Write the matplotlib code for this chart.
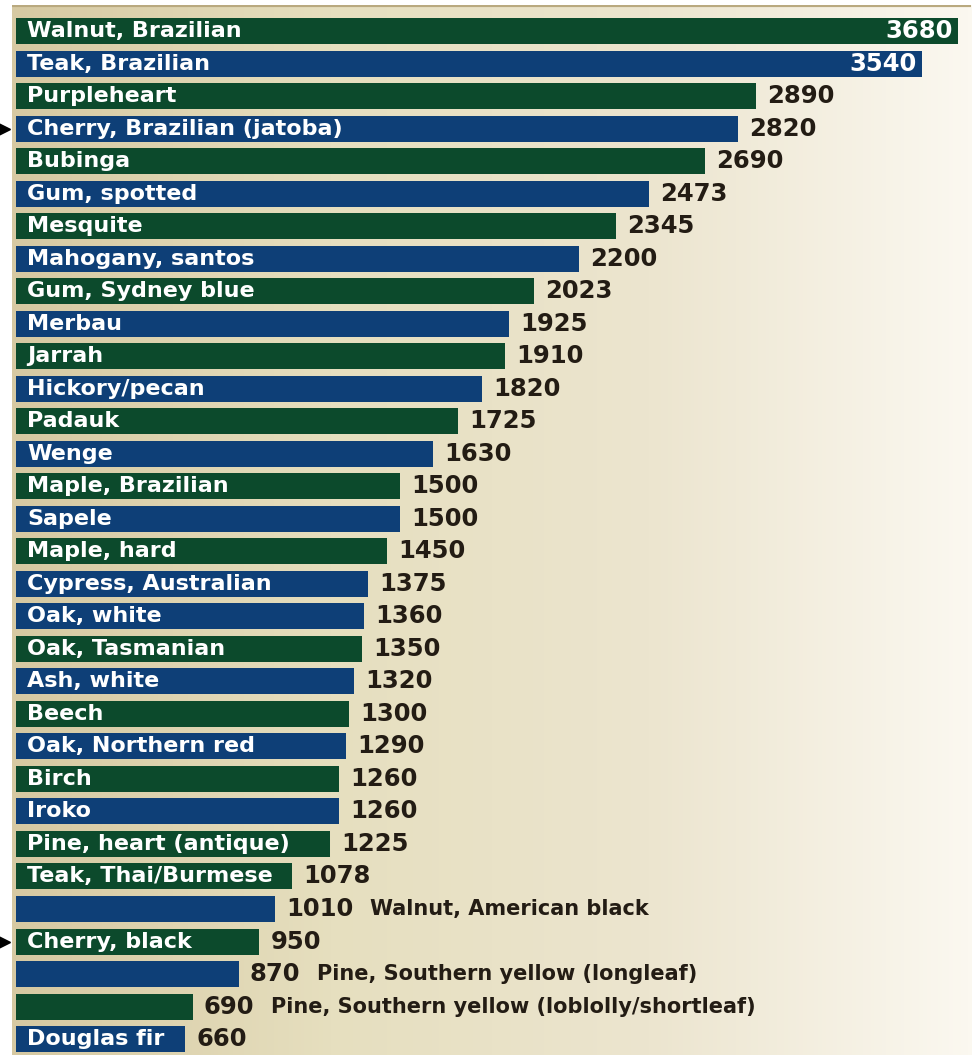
import matplotlib.pyplot as plt
import numpy as np
from matplotlib.colors import LinearSegmentedColormap

# Janka hardness ratings (lbf)
woods = ['Walnut, Brazilian', 'Teak, Brazilian', 'Purpleheart', 'Cherry, Brazilian (jatoba)',
         'Bubinga', 'Gum, spotted', 'Mesquite', 'Mahogany, santos', 'Gum, Sydney blue',
         'Merbau', 'Jarrah', 'Hickory/pecan', 'Padauk', 'Wenge', 'Maple, Brazilian',
         'Sapele', 'Maple, hard', 'Cypress, Australian', 'Oak, white', 'Oak, Tasmanian',
         'Ash, white', 'Beech', 'Oak, Northern red', 'Birch', 'Iroko', 'Pine, heart (antique)',
         'Teak, Thai/Burmese', 'Walnut, American black', 'Cherry, black',
         'Pine, Southern yellow (longleaf)', 'Pine, Southern yellow (loblolly/shortleaf)',
         'Douglas fir']
hardness = [3680, 3540, 2890, 2820, 2690, 2473, 2345, 2200, 2023, 1925, 1910, 1820,
            1725, 1630, 1500, 1500, 1450, 1375, 1360, 1350, 1320, 1300, 1290, 1260,
            1260, 1225, 1078, 1010, 950, 870, 690, 660]
# g = green bar, b = blue bar
shade = list('gbgbgbgbgbgbgbgbgbbgbgbgbggbgbgb')
# names written beside the bar instead of inside it
outside = ['Walnut, American black', 'Pine, Southern yellow (longleaf)',
           'Pine, Southern yellow (loblolly/shortleaf)']
# values written inside the bar
inside_val = ['Walnut, Brazilian', 'Teak, Brazilian']
# rows marked with an arrow
marked = ['Cherry, Brazilian (jatoba)', 'Cherry, black']

GREEN = '#0c4a2c'
BLUE = '#0e3f77'
DARK = '#231c14'

fig = plt.figure(figsize=(9.75, 10.55), dpi=100)
fig.patch.set_facecolor('white')
ax = fig.add_axes([12 / 975, 0, 959 / 975, 1050 / 1055])

xmin, xmax = -16, 3730
ymin, ymax = len(woods) - 0.51, -0.8

# background gradient
bg = LinearSegmentedColormap.from_list('bg', ['#d6c9a2', '#e6dfbf', '#ece5cf', '#fbf8f0'])
grad = np.linspace(0, 1, 256).reshape(1, -1)
ax.imshow(grad, cmap=bg, aspect='auto', extent=[xmin, xmax, ymin, ymax], zorder=0)

y = np.arange(len(woods))
colors = [GREEN if s == 'g' else BLUE for s in shade]
ax.barh(y, hardness, height=0.8, color=colors, zorder=2)

font = dict(family='DejaVu Sans', fontweight='bold')
for i, (name, val) in enumerate(zip(woods, hardness)):
    if name in inside_val:
        ax.annotate(str(val), (val, i), xytext=(-4, 0), textcoords='offset points',
                    ha='right', va='center', color='white', fontsize=17.5, zorder=3, **font)
    else:
        lab = ax.annotate(str(val), (val, i), xytext=(8, 0), textcoords='offset points',
                          ha='left', va='center', color=DARK, fontsize=17.5, zorder=3, **font)
        if name in outside:
            ax.annotate(name, (1, 0.5), xycoords=lab, xytext=(12, 0),
                        textcoords='offset points', ha='left', va='center',
                        color=DARK, fontsize=15, zorder=3, **font)
    if name not in outside:
        ax.annotate(name, (0, i), xytext=(8, 0), textcoords='offset points',
                    ha='left', va='center', color='white', fontsize=16, zorder=3, **font)
    if name in marked:
        ax.plot([xmin - 30], [i], marker='>', color='black', markersize=8,
                clip_on=False, zorder=4)

ax.set_xlim(xmin, xmax)
ax.set_ylim(ymin, ymax)
ax.axhline(ymax, color='#b9a97f', linewidth=3, zorder=1)
ax.axis('off')

fig.savefig('out.png', dpi=100)
